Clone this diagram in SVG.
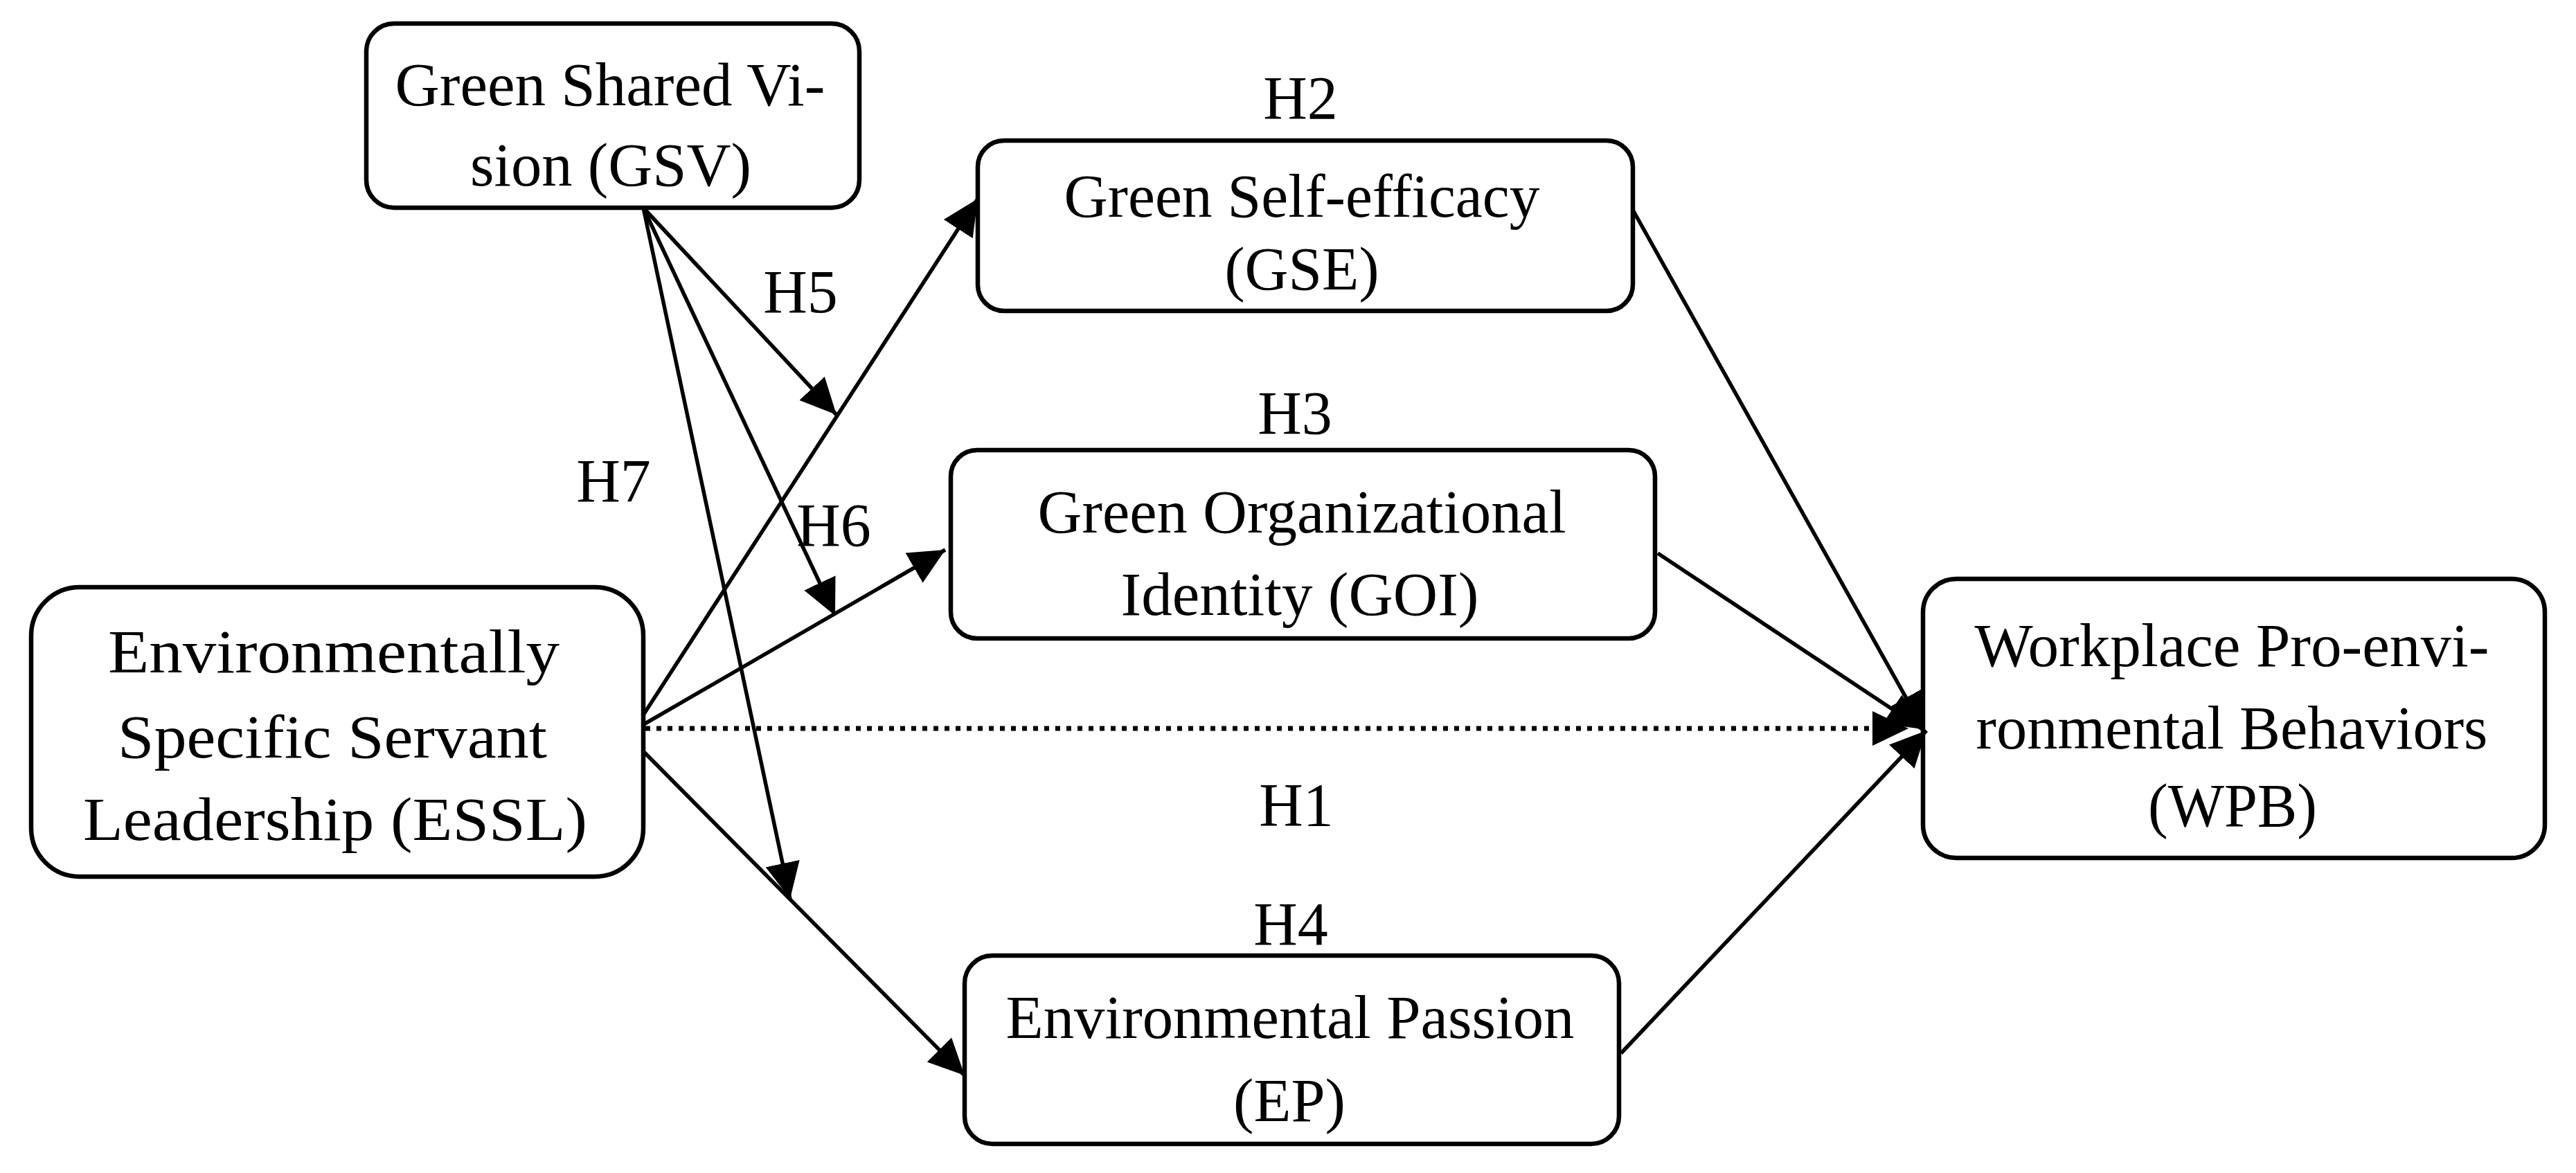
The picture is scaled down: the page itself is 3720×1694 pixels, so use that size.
<svg xmlns="http://www.w3.org/2000/svg" width="3720" height="1694" viewBox="0 0 3720 1694">
<style>
.box{fill:#fff;stroke:#000;stroke-width:6.5}
.t{font-family:"Liberation Serif","Times New Roman",serif;font-size:88px;fill:#000;text-anchor:middle}
.c{fill:none;stroke:#000;stroke-width:5.5}
.d{fill:none;stroke:#000;stroke-width:7;stroke-dasharray:7 9}
</style>
<defs>
<marker id="ah" viewBox="0 0 52 50" refX="52" refY="25" markerWidth="52" markerHeight="50" markerUnits="userSpaceOnUse" orient="auto">
<path d="M0,0 L52,25 L0,50 z" style="fill:#000;stroke:none"/>
</marker>
</defs>
<rect width="3720" height="1694" fill="#fff"/>

<g id="GSV">
<rect class="box" x="529" y="34" width="712" height="266" rx="40"/>
<text class="t" x="881" y="152" textLength="621" lengthAdjust="spacingAndGlyphs">Green Shared Vi-</text>
<text class="t" x="882" y="268" textLength="406" lengthAdjust="spacingAndGlyphs">sion (GSV)</text>
</g>

<g id="ESSL">
<rect class="box" x="45" y="848" width="884" height="418" rx="70"/>
<text class="t" x="482" y="971" textLength="652" lengthAdjust="spacingAndGlyphs">Environmentally</text>
<text class="t" x="480" y="1094" textLength="620" lengthAdjust="spacingAndGlyphs">Specific Servant</text>
<text class="t" x="484" y="1213" textLength="728" lengthAdjust="spacingAndGlyphs">Leadership (ESSL)</text>
</g>

<g id="GSE">
<rect class="box" x="1412" y="203" width="946" height="246" rx="38"/>
<text class="t" x="1880" y="313" textLength="687" lengthAdjust="spacingAndGlyphs">Green Self-efficacy</text>
<text class="t" x="1880" y="418" textLength="223" lengthAdjust="spacingAndGlyphs">(GSE)</text>
</g>

<g id="GOI">
<rect class="box" x="1373" y="650" width="1017" height="272" rx="38"/>
<text class="t" x="1880" y="769" textLength="763" lengthAdjust="spacingAndGlyphs">Green Organizational</text>
<text class="t" x="1877" y="888" textLength="517" lengthAdjust="spacingAndGlyphs">Identity (GOI)</text>
</g>

<g id="EP">
<rect class="box" x="1393" y="1380" width="945" height="272" rx="40"/>
<text class="t" x="1863" y="1499" textLength="821" lengthAdjust="spacingAndGlyphs">Environmental Passion</text>
<text class="t" x="1862" y="1619" textLength="162" lengthAdjust="spacingAndGlyphs">(EP)</text>
</g>

<g id="WPB">
<rect class="box" x="2777" y="836" width="898" height="403" rx="48"/>
<text class="t" x="3223" y="962" textLength="743" lengthAdjust="spacingAndGlyphs">Workplace Pro-envi-</text>
<text class="t" x="3223" y="1081" textLength="739" lengthAdjust="spacingAndGlyphs">ronmental Behaviors</text>
<text class="t" x="3224" y="1193" textLength="244" lengthAdjust="spacingAndGlyphs">(WPB)</text>
</g>

<g id="connectors">
<path class="c" d="M929,300 L1208,599" marker-end="url(#ah)"/>
<path class="c" d="M929,300 L1206,889" marker-end="url(#ah)"/>
<path class="c" d="M929,300 L1141,1298" marker-end="url(#ah)"/>
<path class="c" d="M928,1034 L1412,287" marker-end="url(#ah)"/>
<path class="c" d="M928,1047 L1365,794" marker-end="url(#ah)"/>
<path class="c" d="M928,1084 L1393,1553" marker-end="url(#ah)"/>
<path class="d" d="M932,1052 L2756,1052" marker-end="url(#ah)"/>
<path class="c" d="M2359,305 L2778,1053" marker-end="url(#ah)"/>
<path class="c" d="M2394,799 L2776,1053" marker-end="url(#ah)"/>
<path class="c" d="M2341,1521 L2782,1055" marker-end="url(#ah)"/>
</g>

<g id="labels">
<text class="t" x="1878" y="171">H2</text>
<text class="t" x="1870" y="626">H3</text>
<text class="t" x="1156" y="451">H5</text>
<text class="t" x="1204" y="788">H6</text>
<text class="t" x="886" y="724">H7</text>
<text class="t" x="1872" y="1192">H1</text>
<text class="t" x="1864" y="1364">H4</text>
</g>
</svg>
